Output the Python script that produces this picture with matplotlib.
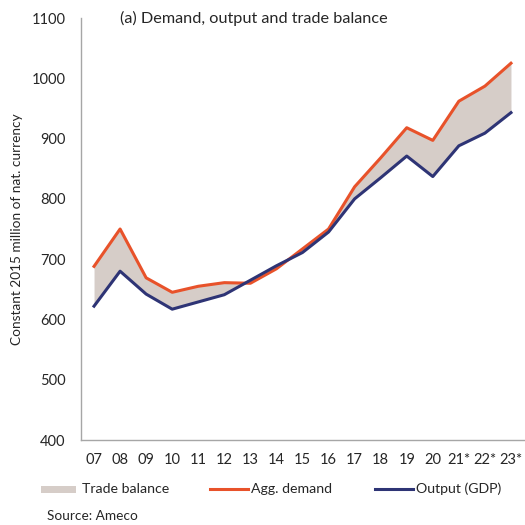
import matplotlib
matplotlib.use("Agg")
import matplotlib.pyplot as plt
from matplotlib.patches import Rectangle
from matplotlib.lines import Line2D

years = ["07", "08", "09", "10", "11", "12", "13", "14", "15", "16", "17", "18", "19", "20", "21*", "22*", "23*"]
agg_demand = [688, 750, 669, 645, 655, 661, 660, 684, 717, 750, 820, 868, 918, 897, 962, 987, 1025]
gdp = [622, 680, 642, 617, 629, 641, 665, 689, 711, 745, 800, 835, 871, 837, 888, 909, 943]
legend_labels = ["Trade balance", "Agg. demand", "Output (GDP)"]

plt.rcParams['font.family'] = ['Lato', 'DejaVu Sans']

ORANGE = "#E8522A"
NAVY = "#2E3475"
FILL = "#D6CDC8"
TXT = "#262626"
W = H = 525

fig = plt.figure(figsize=(5.25, 5.25), dpi=100)
ax = fig.add_axes([81/W, 1 - 440/H, (524-81)/W, (440-18)/H])

x = list(range(len(years)))
ax.fill_between(x, agg_demand, gdp, color=FILL, linewidth=0)
ax.plot(x, agg_demand, color=ORANGE, linewidth=2.2)
ax.plot(x, gdp, color=NAVY, linewidth=2.2)

ax.set_xlim(-0.5, len(years) - 0.5)
ax.set_ylim(400, 1100)
ax.set_yticks(range(400, 1101, 100))
ax.set_xticks(x)
ax.set_xticklabels(years)
ax.tick_params(axis='both', length=0, labelsize=10.5, colors=TXT)
ax.tick_params(axis='y', pad=11)
ax.tick_params(axis='x', pad=9)
for s in ['top', 'right']:
    ax.spines[s].set_visible(False)
for s in ['left', 'bottom']:
    ax.spines[s].set_color('#A6A6A6')
    ax.spines[s].set_linewidth(1.0)

fig.text(17/W, 1 - 229/H, "Constant 2015 million of nat. currency", rotation=90,
         ha='center', va='center', fontsize=9.8, color=TXT)
fig.text(120/W, 1 - 18/H, "(a) Demand, output and trade balance", ha='left', va='center',
         fontsize=11.7, color=TXT)

# legend (manual placement)
ly = 1 - 489/H
fig.add_artist(Rectangle((41/W, 1 - 493/H), 35/W, 7/H, transform=fig.transFigure,
                         facecolor=FILL, edgecolor='none'))
fig.text(82/W, ly, legend_labels[0], ha='left', va='center', fontsize=10.2, color=TXT)
fig.add_artist(Line2D([210/W, 248/W], [ly, ly], transform=fig.transFigure, color=ORANGE, linewidth=2.2))
fig.text(251/W, ly, legend_labels[1], ha='left', va='center', fontsize=10.2, color=TXT)
fig.add_artist(Line2D([375/W, 413/W], [ly, ly], transform=fig.transFigure, color=NAVY, linewidth=2.2))
fig.text(416/W, ly, legend_labels[2], ha='left', va='center', fontsize=10.2, color=TXT)

fig.text(47/W, 1 - 516/H, "Source: Ameco", ha='left', va='center', fontsize=9.8, color=TXT)

fig.savefig("out.png", dpi=100)
